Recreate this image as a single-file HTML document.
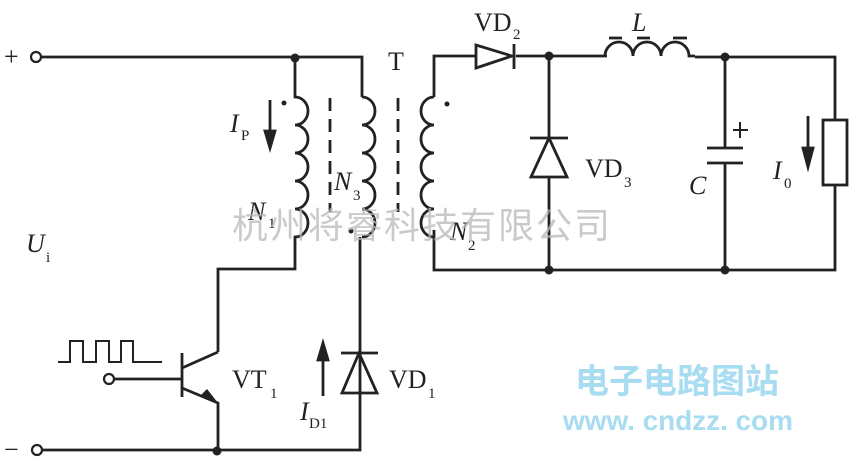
<html><body style="margin:0;background:#fff">
<svg width="850" height="459" xmlns="http://www.w3.org/2000/svg" style="display:block">
<g fill="none" stroke="#222" stroke-width="2.8">
<path d="M41,57 H295 M295,57 H362 V97"/>
<path d="M295,57 V97 a13,14 0 0 1 0,28 a13,14 0 0 1 0,28 a13,14 0 0 1 0,28 a13,14 0 0 1 0,28 a13,14 0 0 1 0,28 V269 H218 V352"/>
<path d="M362,97 a13,14 0 0 1 0,28 a13,14 0 0 1 0,28 a13,14 0 0 1 0,28 a13,14 0 0 1 0,28 a13,14 0 0 1 0,28 M360,237 V450 H41"/>
<path d="M330,98 V212 M398,98 V212" stroke-dasharray="13,8"/>
<path d="M114,379 H182 M182,353 V397 M182,368 L218,352 M182,388 L218,403 V450"/>
<path d="M58,362 H70 V341 H83 V362 H96 V341 H109 V362 H121 V341 H133 V362 H162" stroke-width="2"/>
<path d="M341,353 H378 M359,353 L342,393 H377 Z"/>
<path d="M323,396 V350" /><path d="M323,343 L318,360 L328,360 Z" fill="#222"/>
<path d="M270,100 V140"/><path d="M270,148 L265,131 L275,131 Z" fill="#222"/>
<path d="M434,230 V270 H835 V185 M835,120 V57 H695 M607,56 H549 H516 M476,56 H434 V97"/>
<path d="M434,97 a13,14 0 0 0 0,28 a13,14 0 0 0 0,28 a13,14 0 0 0 0,28 a13,14 0 0 0 0,28 a13,14 0 0 0 0,28"/>
<path d="M476,45 V68 L512,56 Z M514,44 V69"/>
<path d="M549,56 V138 M530,138 H568 M549,138 L531,177 H567 Z M549,177 V270"/>
<path d="M605,56 a14,14 0 0 1 28,0 a14,14 0 0 1 28,0 a14,14 0 0 1 28,0 H695"/>
<path d="M609,38 H622 M637,38 H650 M673,38 H687"/>
<path d="M725,57 V148 M707,148 H743 M707,163 H743 M725,163 V270"/>
<path d="M733,130 H748 M740,122 V138" stroke-width="2"/>
<rect x="823" y="120" width="24" height="65"/>
<path d="M808,116 V155"/><path d="M808,167 L803,148 L813,148 Z" fill="#222"/>
</g>
<g fill="#fff" stroke="#222" stroke-width="2.2">
<circle cx="36" cy="57" r="5"/><circle cx="37" cy="450" r="5"/><circle cx="109" cy="379" r="5"/>
</g>
<g fill="#222">
<circle cx="295" cy="58" r="4.5"/><circle cx="217" cy="451" r="4.5"/><circle cx="549" cy="56" r="4.5"/><circle cx="549" cy="270" r="4.5"/><circle cx="725" cy="57" r="4.5"/><circle cx="725" cy="270" r="4.5"/>
<circle cx="284" cy="103" r="2.5"/><circle cx="351" cy="231" r="2.5"/><circle cx="447" cy="104" r="2.5"/>
<path d="M218,403 L200,396 L207,389 Z"/>
</g>
<g font-family="Liberation Serif, serif" fill="#222" font-size="26">
<text x="4" y="65">+</text><text x="4" y="458">−</text>
<text x="388" y="70">T</text>
<text x="230" y="132" font-style="italic">I</text><text x="241" y="140" font-size="15">P</text>
<text x="248" y="220" font-style="italic">N</text><text x="268" y="228" font-size="15">1</text>
<text x="334" y="190" font-style="italic">N</text><text x="353" y="200" font-size="15">3</text>
<text x="450" y="240" font-style="italic">N</text><text x="468" y="250" font-size="15">2</text>
<text x="26" y="252" font-style="italic">U</text><text x="46" y="262" font-size="15">i</text>
<text x="232" y="388">VT</text><text x="270" y="398" font-size="15">1</text>
<text x="389" y="388">VD</text><text x="428" y="398" font-size="15">1</text>
<text x="300" y="420" font-style="italic">I</text><text x="309" y="428" font-size="15">D1</text>
<text x="474" y="31">VD</text><text x="513" y="39" font-size="15">2</text>
<text x="585" y="177">VD</text><text x="624" y="187" font-size="15">3</text>
<text x="632" y="31" font-style="italic">L</text>
<text x="689" y="194" font-style="italic">C</text>
<text x="773" y="179" font-style="italic">I</text><text x="784" y="188" font-size="15">0</text>
</g>
<text x="232" y="238" font-family="Noto Sans CJK SC, sans-serif" font-size="36" fill="#b8b8b8" fill-opacity="0.75" letter-spacing="2">杭州将睿科技有限公司</text>
<text x="575" y="393" font-family="Noto Sans CJK SC, sans-serif" font-size="34" font-weight="bold" fill="#a8dcf0">电子电路图站</text>
<text x="563" y="430" font-family="Liberation Sans, sans-serif" font-size="28" font-weight="bold" fill="#a8dcf0" textLength="230">www. cndzz. com</text>
</svg>
</body></html>
